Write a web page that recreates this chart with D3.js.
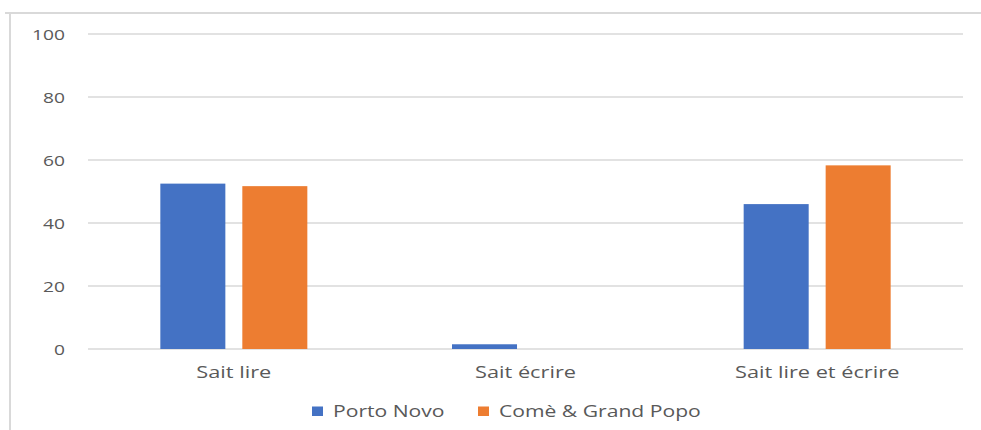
<!DOCTYPE html>
<html><head><meta charset="utf-8">
<script src="https://cdn.jsdelivr.net/npm/d3@7"></script>
<style>html,body{margin:0;padding:0;background:#fff;}svg{display:block;}</style>
</head><body>
<svg id="c" width="981" height="430"></svg>
<script>
const categories = ["Sait lire", "Sait écrire", "Sait lire et écrire"];
const seriesNames = ["Porto Novo", "Comè & Grand Popo"];
const portoNovo = [52.5, 1.5, 46];
const comeGrandPopo = [51.7, 0, 58.3];
const tickValues = [0, 20, 40, 60, 80, 100];
const colors = ["#4472C4", "#ED7D31"];

(function () {
const seriesValues = [portoNovo, comeGrandPopo];
const svg = d3.select("#c");
const SX = 1.28;
const textColor = "#595959";
const font = "'Open Sans', sans-serif";

// frame
svg.append("line").attr("x1", 5).attr("x2", 981).attr("y1", 13).attr("y2", 13)
  .attr("stroke", "#d9d9d9").attr("stroke-width", 2);
svg.append("line").attr("x1", 10).attr("x2", 10).attr("y1", 13).attr("y2", 430)
  .attr("stroke", "#d9d9d9").attr("stroke-width", 2);

const pLeft = 88, pRight = 963, pTop = 34, pBottom = 349;
const y = d3.scaleLinear().domain([0, 100]).range([pBottom, pTop]);
const x0 = d3.scaleBand().domain(categories).range([pLeft, pRight]).padding(0);
const x1 = d3.scaleBand().domain(seriesNames).range([-73.5, 73.5]).paddingInner(0.207).paddingOuter(0);

function stretchedText(g, x, yy, txt, size, anchor) {
  const t = g.append("g").attr("transform", `translate(${x},${yy}) scale(${SX},1)`);
  t.append("text").attr("x", 0).attr("y", 0).attr("text-anchor", anchor)
    .attr("font-family", font).attr("font-size", size).attr("fill", textColor).text(txt);
}

// gridlines
const grid = svg.append("g");
grid.selectAll("line").data(tickValues).join("line")
  .attr("x1", pLeft).attr("x2", pRight)
  .attr("y1", d => y(d)).attr("y2", d => y(d))
  .attr("stroke", "#d9d9d9").attr("stroke-width", 1.5);

// y tick labels
const yl = svg.append("g");
tickValues.forEach(v => stretchedText(yl, 65, y(v) + 5.5, String(v), 15, "end"));

// bars
const bars = svg.append("g");
categories.forEach((c, i) => {
  seriesNames.forEach((s, j) => {
    const v = seriesValues[j][i];
    if (v <= 0) return;
    const cx = x0(c) + x0.bandwidth() / 2;
    bars.append("rect")
      .attr("x", cx + x1(s)).attr("width", x1.bandwidth())
      .attr("y", y(v)).attr("height", y(0) - y(v))
      .attr("fill", colors[j]);
  });
});

// category labels
const xl = svg.append("g");
categories.forEach(c => stretchedText(xl, x0(c) + x0.bandwidth() / 2, 377.5, c, 17, "middle"));

// legend
const lg = svg.append("g");
const legendX = [312, 478];
seriesNames.forEach((s, j) => {
  lg.append("rect").attr("x", legendX[j]).attr("y", 406.5).attr("width", 11).attr("height", 9.5).attr("fill", colors[j]);
  stretchedText(lg, legendX[j] + 21, 416.5, s, 16.5, "start");
});
})();
</script>
</body></html>
